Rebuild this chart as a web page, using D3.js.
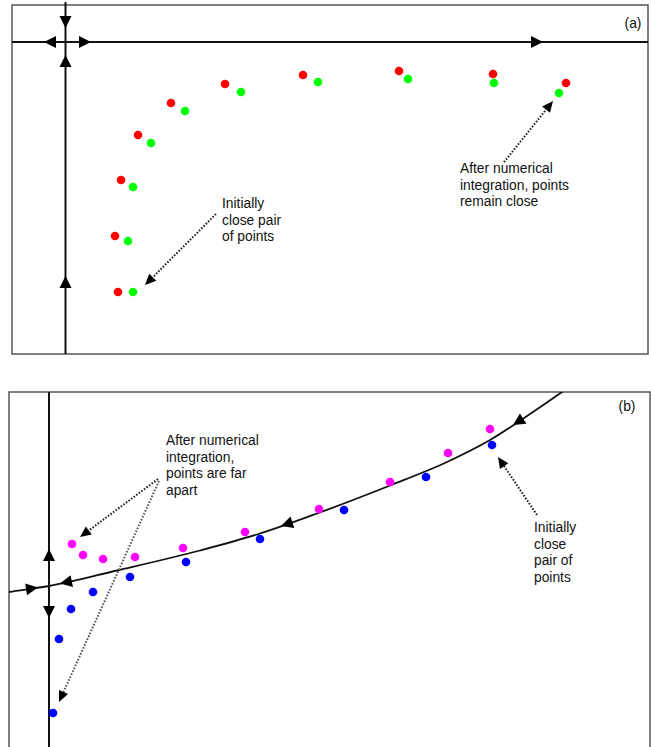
<!DOCTYPE html>
<html><head><meta charset="utf-8">
<script src="https://cdn.jsdelivr.net/npm/d3@7"></script>
<style>
body{margin:0;background:#fff}
svg{display:block}
text{font-family:"Liberation Sans",Arial,Helvetica,sans-serif;font-size:13.8px;fill:#111}
</style>
</head><body>
<svg id="c" width="651" height="747"></svg>
<script>
// ---------- Panel (a) data: positions relative to the saddle point ----------
const redA = [[53,-250],[50,-194],[56,-138],[73,-93],[106,-61],[160,-42],[238,-33],[334,-29],[428,-32],[501,-41]];
const greenA = [[68,-250],[63,-199],[68,-145],[86,-101],[120,-69],[176,-50],[253,-40],[343,-37],[429,-41],[494,-51]];
// ---------- Panel (b) data ----------
const magentaB = [[23,42],[34,31],[54,27],[86,29],[134,38],[196,54],[270,77],[341,104],[399,133],[441,157]];
const blueB = [[4,-127],[10,-53],[22,-23],[44,-6],[81,9],[137,24],[211,47],[295,76],[377,109],[443,141]];
const curveB = [[-45,-6.8],[-40,-6],[0,0],[68,15.5],[151,35.5],[208,51.5],[268,72.5],[341,100.5],[398,124],[441,146],[481,172],[513,194],[530,206]];

const labelsA = ["(a)"];
const labelsB = ["(b)"];
const noteA1 = ["Initially","close pair","of points"];
const noteA2 = ["After numerical","integration, points","remain close"];
const noteB1 = ["After numerical","integration,","points are far","apart"];
const noteB2 = ["Initially","close","pair of","points"];

const svg = d3.select("#c");

function arrowHead(g, tx, ty, ux, uy, len, hw, fill){
  const n = Math.hypot(ux,uy); ux/=n; uy/=n;
  const bx = tx-ux*len, by = ty-uy*len, nx=-uy, ny=ux;
  g.append("path")
    .attr("d",`M${tx},${ty}L${bx+nx*hw},${by+ny*hw}L${bx-nx*hw},${by-ny*hw}Z`)
    .attr("fill",fill||"#000");
}
function dataArrow(g, sx, sy, p, len, hw){
  const tx=sx(p[0]), ty=sy(p[1]);
  const ux=sx(p[0]+p[2])-tx, uy=sy(p[1]+p[3])-ty;
  arrowHead(g,tx,ty,ux,uy,len,hw);
}
function dottedArrow(g, sx, sy, a, color){
  const x0=sx(a[0][0]), y0=sy(a[0][1]), x1=sx(a[1][0]), y1=sy(a[1][1]);
  const dx=x1-x0, dy=y1-y0, L=Math.hypot(dx,dy);
  g.append("line").attr("x1",x0).attr("y1",y0)
    .attr("x2",x1-dx/L*8).attr("y2",y1-dy/L*8)
    .attr("stroke",color||"#222").attr("stroke-width",2).attr("stroke-dasharray","1.6,1.6");
  arrowHead(g,x1,y1,dx,dy,11,5);
}
function note(g, x, y, lines, dy){
  const t = g.append("text").attr("x",x).attr("y",y);
  lines.forEach((s,i)=>t.append("tspan").attr("x",x).attr("y",y+i*dy).text(s));
}

// ================= Panel (a) =================
const ga = svg.append("g");
const xa = d3.scaleLinear().domain([-53,583]).range([12,648]);
const ya = d3.scaleLinear().domain([37,-312]).range([5,354]);

ga.append("rect").attr("x",xa(-53)).attr("y",ya(37)).attr("width",xa(583)-xa(-53)).attr("height",ya(-312)-ya(37))
  .attr("fill","none").attr("stroke","#555").attr("stroke-width",1.5);
ga.append("line").attr("x1",xa(-53)).attr("x2",xa(583)).attr("y1",ya(0)).attr("y2",ya(0)).attr("stroke","#111").attr("stroke-width",2);
ga.append("line").attr("x1",xa(0.5)).attr("x2",xa(0.5)).attr("y1",ya(40)).attr("y2",ya(-312)).attr("stroke","#111").attr("stroke-width",2);
const arrowsA = [[0.5,14,0,-1],[0.5,-13,0,1],[-21,0,-1,0],[26,0,1,0],[478,0,1,0],[0.5,-234,0,1]];
arrowsA.forEach(p=>dataArrow(ga,xa,ya,p,12,6));

ga.selectAll("circle.r").data(redA).enter().append("circle")
  .attr("cx",d=>xa(d[0])).attr("cy",d=>ya(d[1])).attr("r",4.3).attr("fill","#ff0000");
ga.selectAll("circle.g").data(greenA).enter().append("circle")
  .attr("cx",d=>xa(d[0])).attr("cy",d=>ya(d[1])).attr("r",4.3).attr("fill","#00ff00");

dottedArrow(ga,xa,ya,[[151,-172],[80,-243]]);
dottedArrow(ga,xa,ya,[[439,-120],[488,-59]]);
note(ga, xa(157), ya(-166), noteA1, 16.5);
note(ga, xa(395), ya(-131), noteA2, 16.5);
ga.append("text").attr("x",xa(568)).attr("y",ya(14)).attr("text-anchor","middle").text(labelsA[0]);

// ================= Panel (b) =================
const gb = svg.append("g");
const xb = d3.scaleLinear().domain([-40,601]).range([9,650]);
const yb = d3.scaleLinear().domain([194,-161]).range([392,747]);

gb.append("defs").append("clipPath").attr("id","clipb").append("rect")
  .attr("x",xb(-40)).attr("y",yb(194)).attr("width",xb(601)-xb(-40)).attr("height",yb(-161)-yb(194));
gb.append("rect").attr("x",xb(-40)).attr("y",yb(194)).attr("width",xb(601)-xb(-40)).attr("height",yb(-170)-yb(194))
  .attr("fill","none").attr("stroke","#555").attr("stroke-width",1.5);
gb.append("line").attr("x1",xb(0)).attr("x2",xb(0)).attr("y1",yb(194)).attr("y2",yb(-170)).attr("stroke","#111").attr("stroke-width",2);
const line = d3.line().x(d=>xb(d[0])).y(d=>yb(d[1])).curve(d3.curveMonotoneX);
gb.append("path").attr("d",line(curveB)).attr("clip-path","url(#clipb)")
  .attr("fill","none").attr("stroke","#111").attr("stroke-width",1.8);
const arrowsB = [[0,37,0,1],[0,-32,0,-1],[-11,-1.6,1,0.15],[11,2.5,-1,-0.2],[232,60,-1,-0.33],[464,161,-1,-0.63]];
arrowsB.forEach(p=>dataArrow(gb,xb,yb,p,12,6));

gb.selectAll("circle.m").data(magentaB).enter().append("circle")
  .attr("cx",d=>xb(d[0])).attr("cy",d=>yb(d[1])).attr("r",4.3).attr("fill","#ff00ff");
gb.selectAll("circle.b").data(blueB).enter().append("circle")
  .attr("cx",d=>xb(d[0])).attr("cy",d=>yb(d[1])).attr("r",4.3).attr("fill","#0000ff");

dottedArrow(gb,xb,yb,[[109,107],[31,49]]);
dottedArrow(gb,xb,yb,[[110,105],[10,-116]],"#555");
dottedArrow(gb,xb,yb,[[488,71],[449,129]]);
note(gb, xb(117), yb(141), noteB1, 16.5);
note(gb, xb(485), yb(54), noteB2, 16.5);
gb.append("text").attr("x",xb(578)).attr("y",yb(175)).attr("text-anchor","middle").text(labelsB[0]);
</script>
</body></html>
